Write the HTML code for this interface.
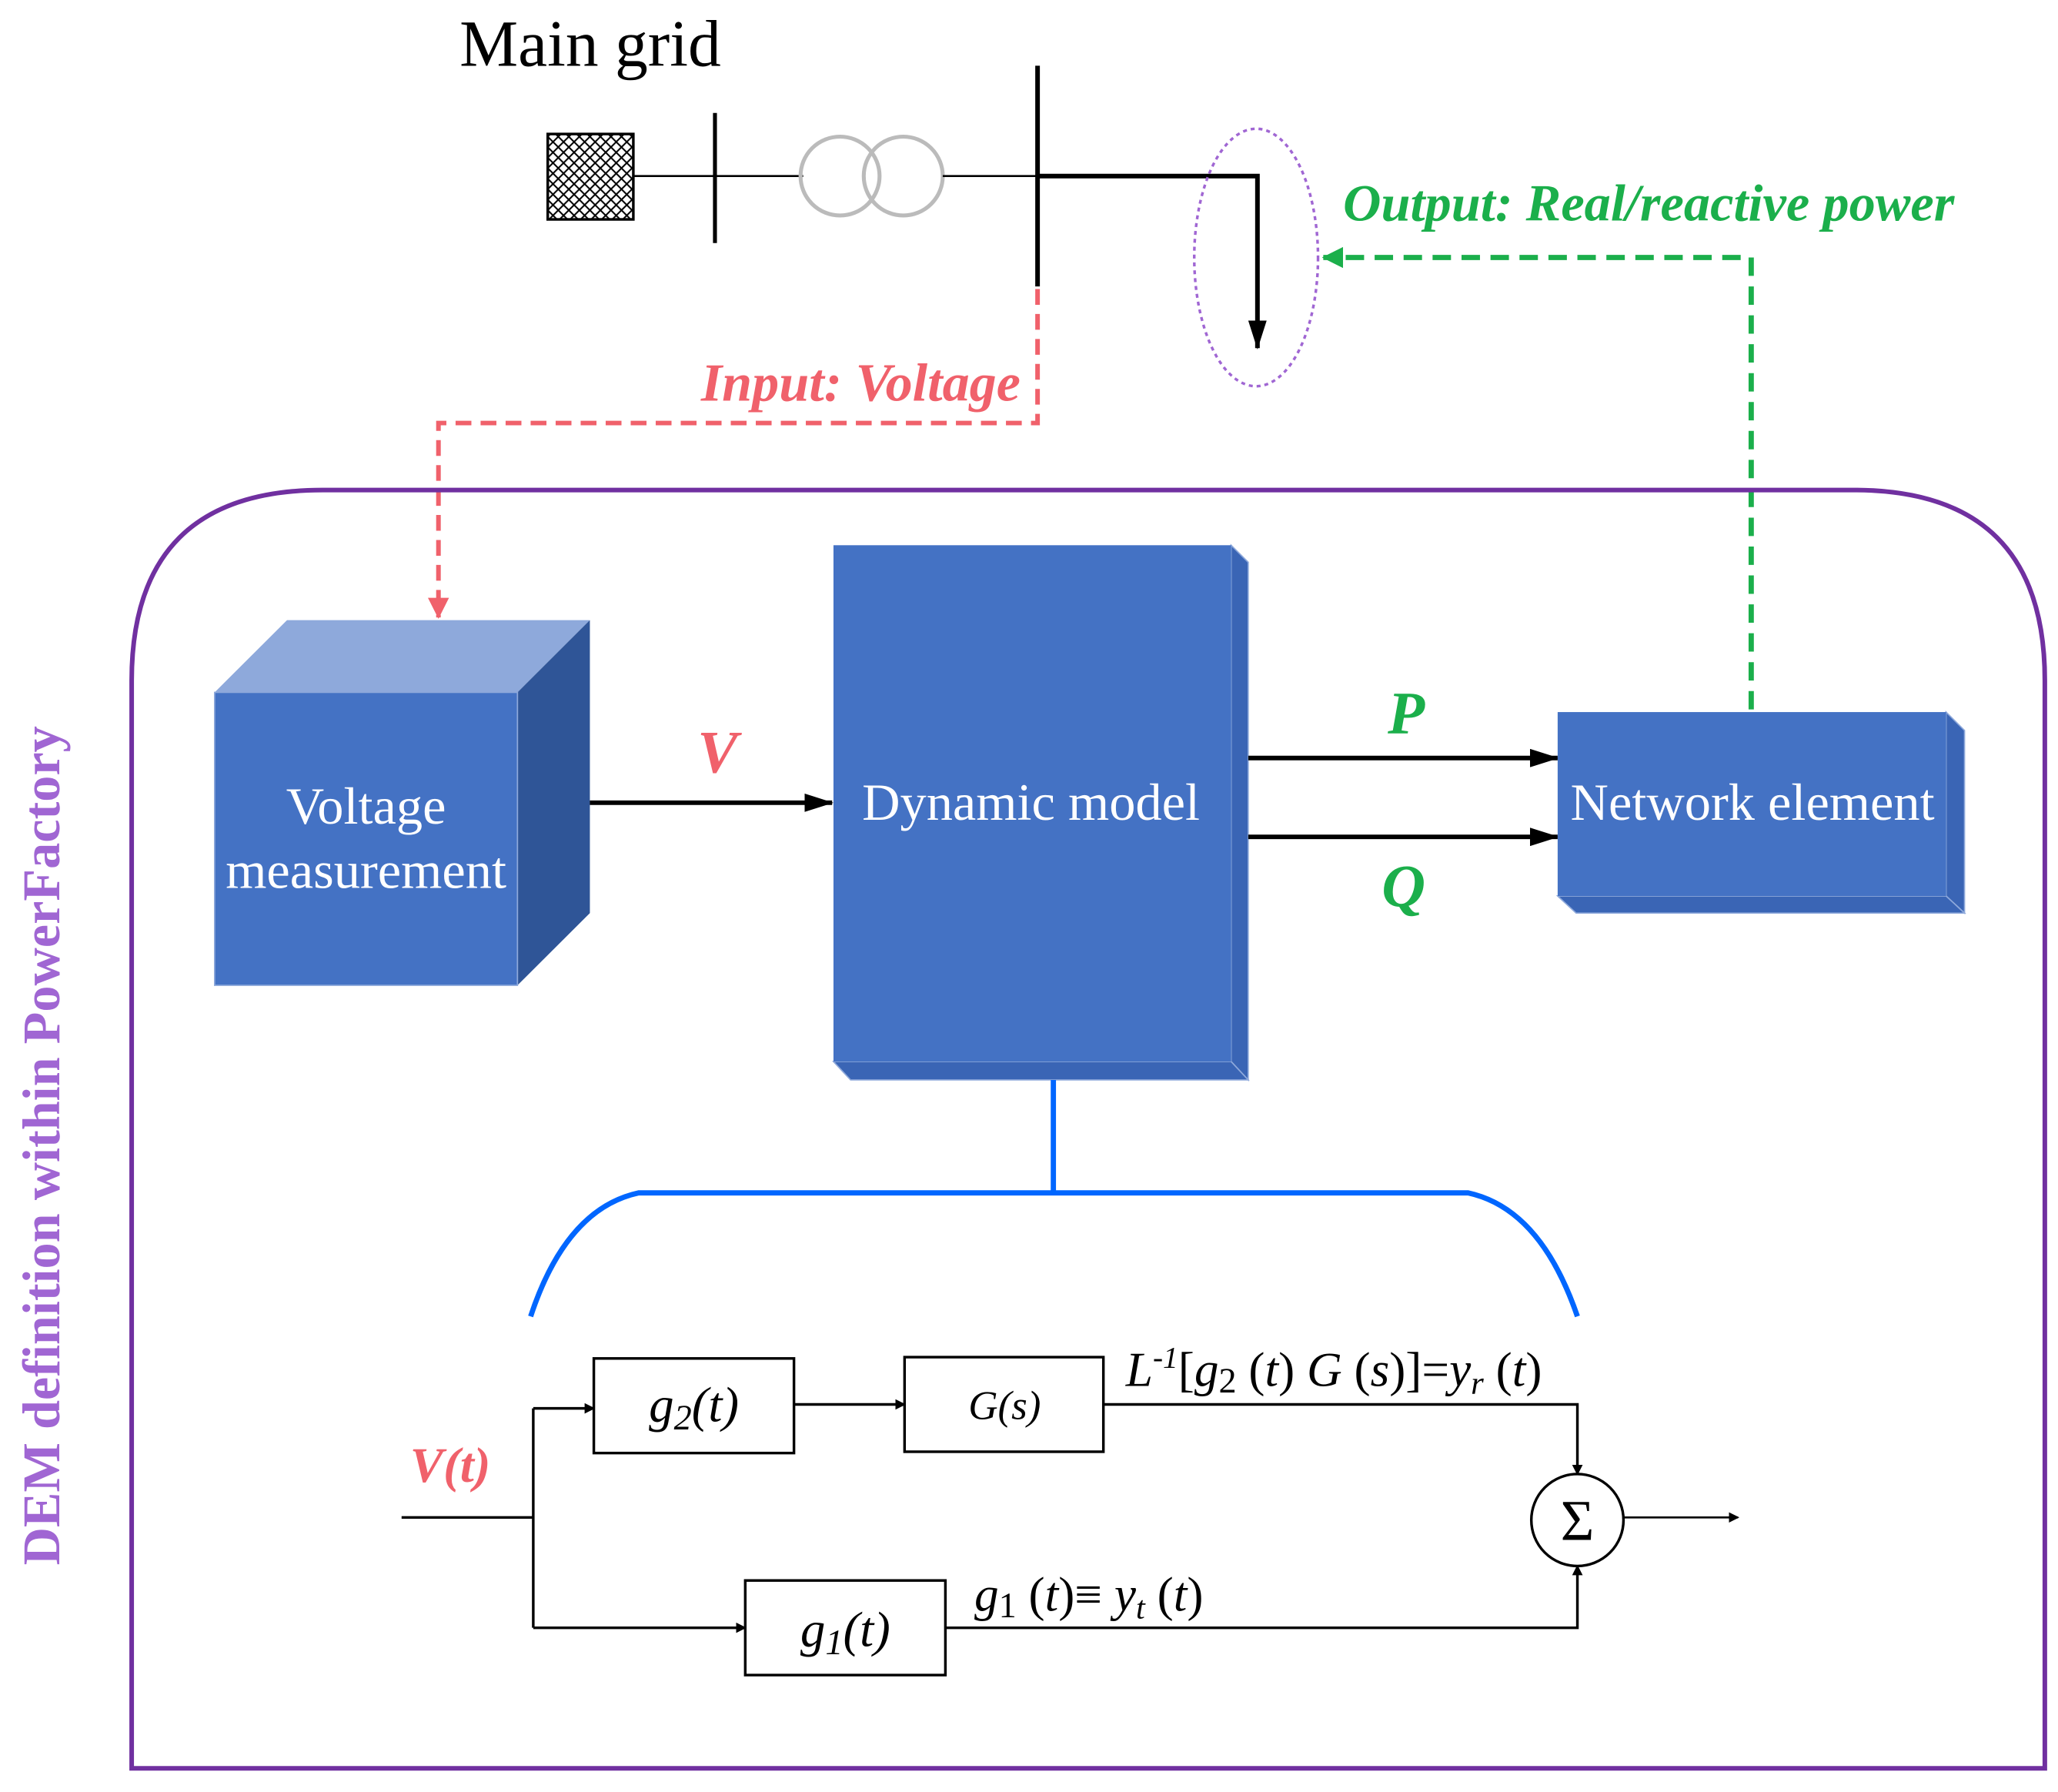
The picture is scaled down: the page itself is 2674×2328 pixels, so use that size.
<!DOCTYPE html>
<html><head><meta charset="utf-8"><style>html,body{margin:0;padding:0;background:#fff}svg{display:block}</style></head><body>
<svg width="2674" height="2328" viewBox="0 0 1563 1364" preserveAspectRatio="none" xmlns="http://www.w3.org/2000/svg" font-family="'Liberation Serif', serif">
<defs>
<pattern id="h" width="8" height="8" patternUnits="userSpaceOnUse"><path d="M0,0L8,8M8,0L0,8" stroke="#000" stroke-width="1.2"/></pattern>
<marker id="ak" markerWidth="8" markerHeight="8" refX="7" refY="4" orient="auto" markerUnits="userSpaceOnUse"><path d="M0,0L8,4L0,8z" fill="#000"/></marker>
<marker id="akb" markerWidth="22" markerHeight="14" refX="21" refY="7" orient="auto" markerUnits="userSpaceOnUse"><path d="M0,0L22,7L0,14z" fill="#000"/></marker>
<marker id="ar" markerWidth="16" markerHeight="16" refX="15" refY="8" orient="auto" markerUnits="userSpaceOnUse"><path d="M0,0L16,8L0,16z" fill="#F0616B"/></marker>
<marker id="ag" markerWidth="16" markerHeight="16" refX="15" refY="8" orient="auto" markerUnits="userSpaceOnUse"><path d="M0,0L16,8L0,16z" fill="#1BAF4B"/></marker>
</defs>
<text x="349" y="50" font-size="50">Main grid</text>
<rect x="416" y="102" width="65" height="65" fill="url(#h)" stroke="#000" stroke-width="2"/>
<line x1="481" y1="134" x2="610" y2="134" stroke="#000" stroke-width="1.5"/>
<line x1="543" y1="86" x2="543" y2="185" stroke="#000" stroke-width="3"/>
<circle cx="638" cy="134" r="30" fill="none" stroke="#bbb" stroke-width="3"/>
<circle cx="686" cy="134" r="30" fill="none" stroke="#bbb" stroke-width="3"/>
<line x1="716" y1="134" x2="788" y2="134" stroke="#000" stroke-width="1.5"/>
<line x1="788" y1="50" x2="788" y2="218" stroke="#000" stroke-width="3.5"/>
<polyline points="788,134 955,134 955,265" fill="none" stroke="#000" stroke-width="3.5" marker-end="url(#akb)"/>
<ellipse cx="954" cy="196" rx="47" ry="98" fill="none" stroke="#A066D3" stroke-width="2" stroke-dasharray="3,3"/>
<polyline points="1330,540 1330,196 1005,196" fill="none" stroke="#1BAF4B" stroke-width="4" stroke-dasharray="14,8" marker-end="url(#ag)"/>
<text x="1020" y="168" font-size="40" font-weight="bold" font-style="italic" fill="#1BAF4B">Output: Real/reactive power</text>
<polyline points="788,220 788,322 333,322 333,470" fill="none" stroke="#F0616B" stroke-width="3.5" stroke-dasharray="12,7" marker-end="url(#ar)"/>
<text x="775" y="305" font-size="41" font-weight="bold" font-style="italic" fill="#F0616B" text-anchor="end">Input: Voltage</text>
<path d="M100,1346 L100,518 Q100,373 245,373 L1408,373 Q1553,373 1553,518 L1553,1346 Z" fill="none" stroke="#7030A0" stroke-width="3.5"/>
<text transform="translate(45,872) rotate(-90)" font-size="40" font-weight="bold" fill="#A066D3" text-anchor="middle">DEM definition within PowerFactory</text>
<polygon points="163,527 218,472 448,472 393,527" fill="#8EA9DB"/>
<polygon points="393,527 448,472 448,695 393,750" fill="#2F5597"/>
<rect x="163" y="527" width="230" height="223" fill="#4472C4" stroke="#8EA9DB" stroke-width="1"/>
<text x="278" y="627" font-size="40" fill="#fff" text-anchor="middle">Voltage</text>
<text x="278" y="676" font-size="40" fill="#fff" text-anchor="middle">measurement</text>
<line x1="448" y1="611" x2="632" y2="611" stroke="#000" stroke-width="3.5" marker-end="url(#akb)"/>
<text x="545" y="588" font-size="46" font-weight="bold" font-style="italic" fill="#F0616B" text-anchor="middle">V</text>
<polygon points="935,415 948,428 948,822 935,808" fill="#3A65B5" stroke="#8EA9DB" stroke-width="1"/>
<polygon points="633,808 935,808 948,822 646,822" fill="#3A65B5" stroke="#8EA9DB" stroke-width="1"/>
<rect x="633" y="415" width="302" height="393" fill="#4472C4"/>
<text x="783" y="624" font-size="40" fill="#fff" text-anchor="middle">Dynamic model</text>
<line x1="948" y1="577" x2="1183" y2="577" stroke="#000" stroke-width="3.5" marker-end="url(#akb)"/>
<line x1="948" y1="637" x2="1183" y2="637" stroke="#000" stroke-width="3.5" marker-end="url(#akb)"/>
<text x="1068" y="558" font-size="46" font-weight="bold" font-style="italic" fill="#1BAF4B" text-anchor="middle">P</text>
<text x="1066" y="690" font-size="46" font-weight="bold" font-style="italic" fill="#1BAF4B" text-anchor="middle">Q</text>
<polygon points="1478,542 1492,556 1492,695 1478,682" fill="#3A65B5" stroke="#8EA9DB" stroke-width="1"/>
<polygon points="1183,682 1478,682 1492,695 1197,695" fill="#3A65B5" stroke="#8EA9DB" stroke-width="1"/>
<rect x="1183" y="542" width="295" height="140" fill="#4472C4"/>
<text x="1331" y="624" font-size="40" fill="#fff" text-anchor="middle">Network element</text>
<line x1="800" y1="822" x2="800" y2="908" stroke="#0066FF" stroke-width="4"/>
<path d="M403,1002 Q430,920 485,908 L1115,908 Q1170,920 1198,1002" fill="none" stroke="#0066FF" stroke-width="4"/>
<text x="342" y="1128" font-size="38" font-weight="bold" font-style="italic" fill="#F0616B" text-anchor="middle">V(t)</text>
<line x1="305" y1="1155" x2="405" y2="1155" stroke="#000" stroke-width="2"/>
<line x1="405" y1="1072" x2="405" y2="1239" stroke="#000" stroke-width="2"/>
<line x1="405" y1="1072" x2="451" y2="1072" stroke="#000" stroke-width="2" marker-end="url(#ak)"/>
<line x1="405" y1="1239" x2="566" y2="1239" stroke="#000" stroke-width="2" marker-end="url(#ak)"/>
<rect x="451" y="1034" width="152" height="72" fill="#fff" stroke="#000" stroke-width="2"/>
<text x="527" y="1082" font-size="38" font-style="italic" text-anchor="middle">g<tspan font-size="27" dy="6">2</tspan><tspan dy="-6">(t)</tspan></text>
<line x1="603" y1="1069" x2="687" y2="1069" stroke="#000" stroke-width="2" marker-end="url(#ak)"/>
<rect x="687" y="1033" width="151" height="72" fill="#fff" stroke="#000" stroke-width="2"/>
<text x="763" y="1080" font-size="31" font-style="italic" text-anchor="middle">G(s)</text>
<polyline points="838,1069 1198,1069 1198,1122" fill="none" stroke="#000" stroke-width="2" marker-end="url(#ak)"/>
<circle cx="1198" cy="1157" r="35" fill="#fff" stroke="#000" stroke-width="2"/>
<text x="1198" y="1172" font-size="44" text-anchor="middle">Σ</text>
<line x1="1233" y1="1155" x2="1320" y2="1155" stroke="#000" stroke-width="1.5" marker-end="url(#ak)"/>
<rect x="566" y="1203" width="152" height="72" fill="#fff" stroke="#000" stroke-width="2"/>
<text x="642" y="1253" font-size="38" font-style="italic" text-anchor="middle">g<tspan font-size="27" dy="6">1</tspan><tspan dy="-6">(t)</tspan></text>
<polyline points="718,1239 1198,1239 1198,1192" fill="none" stroke="#000" stroke-width="2" marker-end="url(#ak)"/>
<text x="855" y="1055" font-size="37"><tspan font-style="italic">L</tspan><tspan font-size="23" dy="-14" font-style="italic">-1</tspan><tspan dy="14">[</tspan><tspan font-style="italic">g</tspan><tspan font-size="27" dy="5">2</tspan><tspan dy="-5"> (</tspan><tspan font-style="italic">t</tspan>) <tspan font-style="italic">G</tspan> (<tspan font-style="italic">s</tspan>)]=<tspan font-style="italic">y</tspan><tspan font-size="25" dy="6" font-style="italic">r</tspan><tspan dy="-6"> (</tspan><tspan font-style="italic">t</tspan>)</text>
<text x="740" y="1226" font-size="37"><tspan font-style="italic">g</tspan><tspan font-size="27" dy="5">1</tspan><tspan dy="-5"> (</tspan><tspan font-style="italic">t</tspan>)≡ <tspan font-style="italic">y</tspan><tspan font-size="25" dy="6" font-style="italic">t</tspan><tspan dy="-6"> (</tspan><tspan font-style="italic">t</tspan>)</text>
</svg>
</body></html>
